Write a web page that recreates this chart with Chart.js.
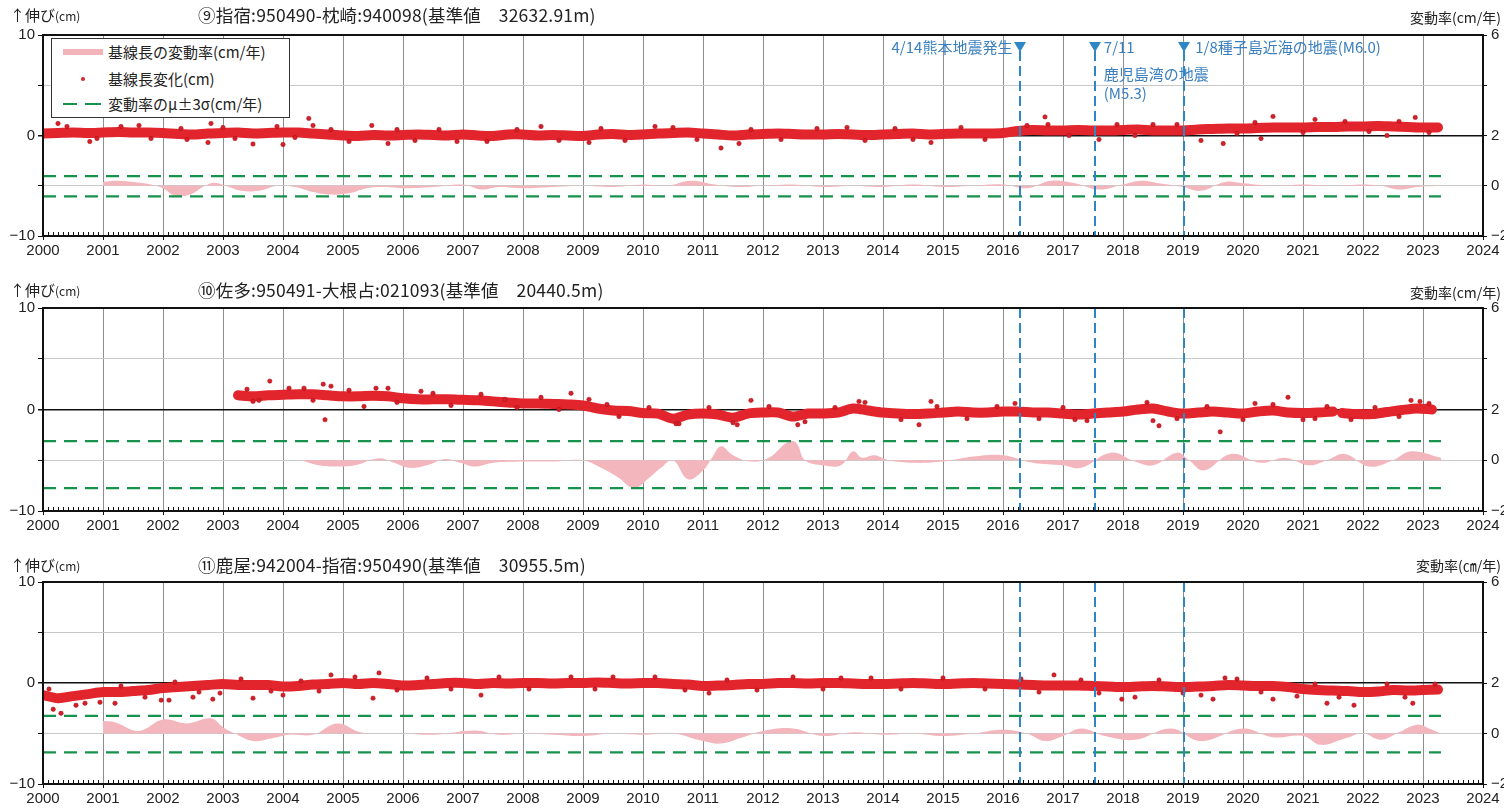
<!DOCTYPE html>
<html lang="ja">
<head>
<meta charset="utf-8">
<title>基線長変化</title>
<script src="https://cdn.jsdelivr.net/npm/chart.js@4.4.1/dist/chart.umd.min.js"></script>
<style>
  body { margin: 0; width: 1504px; height: 810px; background: #fff; position: relative; overflow: hidden; font-family: "Noto Sans CJK JP", sans-serif; color: #222; }
  .panel { position: absolute; left: 0; width: 1504px; }
  .panel canvas { position: absolute; left: 0; top: 0; }
  .head { position: absolute; height: 20px; line-height: 20px; white-space: nowrap; z-index: 2; }
  .ylab { left: 10px; font-size: 15px; }
  .ylab small { font-size: 12px; }
  .title { left: 198px; font-size: 17.5px; letter-spacing: 0.2px; }
  .rlab { right: 3px; font-size: 14px; }
  .legend { position: absolute; left: 51px; top: 38px; width: 237px; height: 78px; border: 1px solid #333; background: #fff; z-index: 2; font-size: 15px; }
  .legend .row { position: absolute; left: 0; height: 20px; line-height: 20px; width: 100%; }
  .legend .txt { position: absolute; left: 56px; white-space: nowrap; }
  .sym-rate { position: absolute; left: 11px; top: 7px; width: 40px; height: 6px; background: #f2b4bb; }
  .sym-dot { position: absolute; left: 29px; top: 8px; width: 4px; height: 4px; border-radius: 50%; background: #d9232a; }
  .sym-sig { position: absolute; top: 9px; height: 2px; background: #17924c; }
</style>
</head>
<body>
<div class="panel" style="top:0px;height:273px">
  <canvas id="c1" width="1504" height="273"></canvas>
  <div class="head ylab" style="top:5px">↑伸び<small>(cm)</small></div>
  <div class="head title" style="top:5px">⑨指宿:950490-枕崎:940098(基準値　32632.91m)</div>
  <div class="head rlab" style="top:7px">変動率(cm/年)</div>
  <div class="legend">
    <div class="row" style="top:3px"><span class="sym-rate"></span><span class="txt">基線長の変動率(cm/年)</span></div>
    <div class="row" style="top:30px"><span class="sym-dot"></span><span class="txt">基線長変化(cm)</span></div>
    <div class="row" style="top:55px"><span class="sym-sig" style="left:11px;width:14px"></span><span class="sym-sig" style="left:33px;width:16px"></span><span class="txt">変動率のμ±3σ(cm/年)</span></div>
  </div>
</div>
<div class="panel" style="top:273px;height:274px">
  <canvas id="c2" width="1504" height="274"></canvas>
  <div class="head ylab" style="top:7px">↑伸び<small>(cm)</small></div>
  <div class="head title" style="top:7px">⑩佐多:950491-大根占:021093(基準値　20440.5m)</div>
  <div class="head rlab" style="top:9px">変動率(cm/年)</div>
</div>
<div class="panel" style="top:547px;height:263px">
  <canvas id="c3" width="1504" height="263"></canvas>
  <div class="head ylab" style="top:8px">↑伸び<small>(cm)</small></div>
  <div class="head title" style="top:8px">⑪鹿屋:942004-指宿:950490(基準値　30955.5m)</div>
  <div class="head rlab" style="top:8px">変動率(㎝/年)</div>
</div>

<script>
// time axis (decimal years)
const yearMin = 2000;
const yearMax = 2024;
const bandStep = 0.25;
const rateEnd = 2023.3;

// events (vertical dashed lines)
const eventYears = [2016.29, 2017.53, 2019.02];
const eventLabels = ["4/14熊本地震発生", "7/11", "1/8種子島近海の地震(M6.0)"];
const eventSubLabels = ["鹿児島湾の地震", "(M5.3)"];

// μ±3σ of rate (cm/yr) per panel
const sigmaUpper = [0.38, 0.75, 0.7];
const sigmaLower = [-0.42, -1.1, -0.75];

// ---- panel 1: 指宿-枕崎 ----
const band1Start = 2000;
const band1 = [
  0.2, 0.25, 0.3, 0.25, 0.3, 0.35, 0.3, 0.3, 0.25, 0.15, 0.1, 0.2,
  0.25, 0.3, 0.2, 0.25, 0.3, 0.3, 0.2, 0.1, 0.0, -0.05, 0.05, 0.0,
  0.05, 0.1, 0.05, 0.0, 0.1, 0.0, -0.05, 0.1, 0.1, 0.0, 0.05, 0.0,
  -0.05, 0.1, 0.15, 0.05, 0.1, 0.2, 0.25, 0.3, 0.2, 0.1, 0.0, 0.1,
  0.15, 0.2, 0.15, 0.1, 0.1, 0.15, 0.1, 0.05, 0.1, 0.15, 0.2, 0.1,
  0.15, 0.2, 0.2, 0.2, 0.25, 0.45, 0.55, 0.5, 0.5, 0.55, 0.5, 0.5,
  0.55, 0.6, 0.5, 0.5, 0.5, 0.6, 0.65, 0.7, 0.7, 0.75, 0.8, 0.8,
  0.8, 0.85, 0.85, 0.9, 0.9, 0.95, 0.9, 0.85, 0.8, 0.8
];
const dots1X = [2000.25, 2000.78, 2002.75, 2002.8, 2003.5, 2004.0, 2004.43, 2004.5, 2005.48, 2005.75,
  2001.6, 2006.9, 2008.3, 2009.1, 2010.2, 2011.3, 2011.6, 2013.4, 2014.8, 2016.7,
  2016.75, 2017.6, 2018.5, 2019.3, 2019.67, 2020.3, 2020.5, 2021.2, 2022.4, 2022.87];
const dots1Y = [1.2, -0.6, -0.7, 1.2, -0.85, -0.9, 1.7, 1.0, 1.0, -0.8,
  1.0, -0.6, 0.9, -0.7, 0.9, -1.25, -0.8, 0.8, -0.7, 1.85,
  1.1, -0.4, 1.1, -0.5, -0.8, -0.3, 1.9, 1.6, 0.0, 1.8];
const edge1X = [2000.4, 2000.9, 2001.3, 2001.8, 2002.3, 2002.4, 2003.0, 2003.2, 2003.9, 2004.2,
  2004.8, 2005.1, 2005.9, 2006.2, 2006.6, 2007.4, 2007.9, 2008.6, 2009.3, 2009.7,
  2010.5, 2010.9, 2011.8, 2012.3, 2012.9, 2013.7, 2014.2, 2014.5, 2015.3, 2015.7,
  2016.4, 2017.1, 2017.9, 2018.2, 2018.9, 2019.9, 2020.2, 2021.0, 2021.7, 2022.1,
  2022.6, 2023.1];
const edge1Y = [0.9, -0.3, 0.9, -0.3, 0.7, -0.4, 0.8, -0.3, 0.9, -0.2,
  0.6, -0.6, 0.6, -0.5, 0.6, -0.6, 0.6, -0.5, 0.7, -0.5,
  0.8, -0.4, 0.6, -0.4, 0.7, -0.5, 0.7, -0.4, 0.8, -0.4,
  1.0, 0.0, 1.1, 0.0, 1.1, 0.2, 1.3, 0.3, 1.4, 0.4,
  1.4, 0.3];
const rate1X = [2001.0, 2001.2, 2001.5, 2001.8, 2002.0, 2002.2, 2002.45, 2002.7, 2002.85, 2003.1,
  2003.3, 2003.6, 2003.9, 2004.2, 2004.5, 2004.8, 2005.1, 2005.4, 2005.7, 2006.0,
  2006.5, 2007.0, 2007.3, 2007.6, 2008.0, 2008.5, 2009.0, 2009.5, 2010.0, 2010.4,
  2010.8, 2011.2, 2011.6, 2012.0, 2012.5, 2013.0, 2013.5, 2014.0, 2014.5, 2015.0,
  2015.5, 2016.0, 2016.4, 2016.8, 2017.2, 2017.6, 2018.0, 2018.3, 2018.6, 2019.0,
  2019.3, 2019.7, 2020.0, 2020.5, 2021.0, 2021.5, 2022.0, 2022.3, 2022.6, 2022.9,
  2023.3];
const rate1Y = [0.15, 0.2, 0.15, 0.05, -0.1, -0.4, -0.35, 0.0, 0.12, -0.05,
  -0.2, -0.2, 0.0, -0.05, -0.25, -0.35, -0.3, -0.1, -0.05, -0.1,
  -0.05, 0.05, -0.15, -0.05, -0.1, -0.05, 0.0, -0.05, 0.05, 0.0,
  0.2, 0.05, -0.05, 0.0, 0.05, -0.05, 0.0, -0.05, 0.05, -0.05,
  0.0, 0.05, -0.1, 0.2, 0.1, -0.15, 0.05, 0.2, 0.1, -0.05,
  -0.2, 0.15, 0.1, 0.0, 0.05, 0.0, 0.05, 0.0, -0.15, -0.05,
  0.0];

// ---- panel 2: 佐多-大根占 ----
const band2aStart = 2003.25;
const band2a = [
  1.4, 1.3, 1.4,
  1.45, 1.5, 1.5, 1.4, 1.3, 1.3, 1.35, 1.3, 1.1, 1.0, 1.0, 1.0,
  0.95, 0.9, 0.8, 0.7, 0.6, 0.6, 0.55, 0.5, 0.4, 0.1, -0.1, -0.15,
  -0.35, -0.4, -0.9, -0.5, -0.4, -0.5, -0.8, -0.4, -0.3, -0.3, -0.7, -0.4,
  -0.4, -0.3, 0.1, -0.1, -0.3, -0.4, -0.45, -0.4, -0.3, -0.2, -0.3, -0.3,
  -0.2, -0.2, -0.3, -0.3, -0.4, -0.5, -0.4, -0.3, -0.2, 0.0, 0.1, -0.2,
  -0.4, -0.3, -0.2, -0.3, -0.4, -0.2, -0.1, -0.3, -0.35, -0.3, -0.2
];
const band2bStart = 2021.65;
const band2b = [-0.35, -0.45, -0.45, -0.25, -0.05, 0.1, 0.0];
const dots2X = [2003.6, 2003.78, 2004.35, 2004.67, 2004.7, 2004.8, 2005.35, 2005.55, 2005.75, 2006.3,
  2007.7, 2008.8, 2009.4, 2010.55, 2011.57, 2011.8, 2012.58, 2013.6, 2014.6, 2014.8,
  2016.2, 2017.2, 2018.5, 2018.6, 2019.62, 2020.2, 2020.75, 2021.2, 2022.8, 2022.95];
const dots2Y = [0.9, 2.8, 2.1, 2.5, -1.0, 2.3, 0.3, 2.1, 2.1, 1.8,
  1.0, 1.6, 0.5, -1.4, -1.5, 0.9, -1.5, 0.8, -1.5, 0.8,
  0.6, -1.0, -1.1, -1.6, -2.2, 0.6, 1.2, -0.9, 0.9, 0.8];
const edge2X = [2003.4, 2003.5, 2004.1, 2004.5, 2005.1, 2005.9, 2006.5, 2006.8, 2007.3, 2007.9,
  2008.3, 2008.6, 2009.1, 2009.6, 2010.1, 2010.6, 2011.1, 2011.5, 2012.1, 2012.7,
  2013.2, 2013.7, 2014.3, 2014.9, 2015.4, 2015.9, 2016.6, 2017.0, 2017.4, 2018.4,
  2018.9, 2019.4, 2020.0, 2020.5, 2021.0, 2021.4, 2021.8, 2022.2, 2022.6, 2023.1];
const edge2Y = [2.0, 0.8, 2.1, 0.9, 1.9, 0.7, 1.6, 0.4, 1.5, 0.2,
  1.2, 0.0, 1.0, -0.7, 0.2, -1.4, 0.2, -1.3, 0.3, -1.2,
  0.2, 0.7, -1.0, 0.3, -0.9, 0.3, -0.9, 0.2, -1.1, 0.7,
  -0.9, 0.3, -1.0, 0.5, -1.0, 0.3, -1.0, 0.2, -0.7, 0.6];
const rate2X = [2004.3, 2004.6, 2004.9, 2005.2, 2005.6, 2005.85, 2006.1, 2006.4, 2006.7, 2006.95,
  2007.2, 2007.5, 2008.0, 2008.5, 2009.0, 2009.3, 2009.6, 2009.85, 2010.1, 2010.3,
  2010.5, 2010.75, 2011.0, 2011.15, 2011.3, 2011.5, 2011.8, 2012.1, 2012.4, 2012.55,
  2012.7, 2013.0, 2013.3, 2013.5, 2013.65, 2013.85, 2014.1, 2014.5, 2015.0, 2015.5,
  2016.0, 2016.5, 2017.0, 2017.3, 2017.8, 2018.2, 2018.5, 2018.9, 2019.1, 2019.35,
  2019.8, 2020.3, 2020.7, 2021.1, 2021.4, 2021.7, 2022.1, 2022.5, 2022.8, 2023.3];
const rate2Y = [0.0, -0.2, -0.25, -0.2, 0.08, -0.1, -0.3, -0.2, 0.05, -0.1,
  -0.25, -0.1, -0.05, -0.05, 0.0, -0.3, -0.7, -1.1, -0.7, -0.3,
  0.0, -0.75, -0.4, 0.1, 0.55, 0.2, -0.05, 0.1, 0.7, 0.7,
  0.0, -0.2, -0.2, 0.35, 0.1, 0.2, 0.0, -0.1, -0.05, 0.15,
  0.2, -0.1, -0.2, -0.3, 0.3, -0.05, -0.2, 0.3, 0.0, -0.4,
  0.25, -0.1, 0.1, -0.2, 0.0, 0.25, -0.25, 0.0, 0.35, 0.1];

// ---- panel 3: 鹿屋-指宿 ----
const band3Start = 2000;
const band3 = [
  -1.2, -1.5, -1.3, -1.1, -0.9, -0.9, -0.8, -0.7, -0.5, -0.4, -0.3, -0.2,
  -0.1, -0.2, -0.2, -0.2, -0.35, -0.3, -0.15, -0.1, 0.0, -0.1, 0.0, -0.1,
  -0.25, -0.2, -0.1, 0.0, 0.0, -0.1, 0.0, -0.05, 0.0, 0.0, -0.05, 0.0,
  0.0, 0.05, 0.0, -0.05, 0.0, 0.0, -0.1, -0.15, -0.3, -0.25, -0.2, -0.1,
  -0.1, 0.0, 0.0, -0.05, 0.0, 0.0, -0.05, -0.1, -0.1, -0.05, 0.0, -0.05,
  -0.1, -0.05, 0.0, -0.05, -0.1, -0.15, -0.2, -0.25, -0.25, -0.25, -0.3, -0.35,
  -0.4, -0.35, -0.3, -0.35, -0.4, -0.35, -0.3, -0.2, -0.25, -0.3, -0.3, -0.4,
  -0.6, -0.7, -0.75, -0.8, -0.9, -0.85, -0.7, -0.75, -0.7, -0.65
];
const dots3X = [2000.17, 2000.3, 2000.55, 2000.95, 2001.2, 2001.97, 2002.1, 2002.5, 2002.83, 2002.95,
  2003.5, 2004.0, 2004.8, 2005.5, 2005.6, 2007.3, 2009.5, 2011.1, 2013.3, 2016.85,
  2017.98, 2018.2, 2019.3, 2019.5, 2019.7, 2020.5, 2020.9, 2021.4, 2021.85, 2022.83];
const dots3Y = [-2.6, -3.0, -2.2, -1.9, -2.0, -1.7, -1.7, -1.4, -1.6, -1.0,
  -1.5, -1.2, 0.8, -1.5, 1.0, -1.2, 0.6, -1.0, 0.5, 0.8,
  -1.6, -1.4, -1.2, -1.6, 0.5, -1.6, -1.3, -2.0, -2.2, -2.0];
const edge3X = [2000.1, 2000.7, 2001.3, 2001.7, 2002.2, 2002.6, 2003.3, 2003.8, 2004.3, 2004.6,
  2005.2, 2005.9, 2006.4, 2006.8, 2007.6, 2008.1, 2008.8, 2009.2, 2010.2, 2010.7,
  2011.4, 2011.9, 2012.5, 2013.0, 2013.8, 2014.3, 2015.0, 2015.7, 2016.3, 2016.6,
  2017.3, 2017.6, 2018.6, 2019.0, 2019.9, 2020.3, 2021.2, 2021.6, 2022.4, 2022.7,
  2023.2];
const edge3Y = [-0.6, -2.0, -0.3, -1.4, 0.1, -0.9, 0.4, -0.8, 0.2, -0.8,
  0.6, -0.7, 0.5, -0.6, 0.6, -0.6, 0.6, -0.6, 0.6, -0.7,
  0.3, -0.7, 0.6, -0.6, 0.5, -0.6, 0.5, -0.6, 0.4, -0.9,
  0.3, -1.0, 0.3, -1.0, 0.4, -0.9, -0.1, -1.4, -0.1, -1.4,
  -0.1];
const rate3X = [2001.0, 2001.2, 2001.6, 2002.0, 2002.4, 2002.8, 2003.0, 2003.2, 2003.5, 2003.8,
  2004.1, 2004.5, 2004.9, 2005.3, 2005.7, 2006.0, 2006.5, 2007.2, 2007.6, 2008.0,
  2008.5, 2009.0, 2009.5, 2010.0, 2010.5, 2011.0, 2011.3, 2011.6, 2012.0, 2012.5,
  2013.0, 2013.5, 2014.0, 2014.5, 2015.0, 2015.5, 2016.0, 2016.4, 2016.7, 2017.0,
  2017.3, 2017.7, 2018.2, 2018.8, 2019.3, 2020.0, 2020.5, 2021.0, 2021.3, 2021.7,
  2022.0, 2022.3, 2022.6, 2022.9, 2023.1, 2023.3];
const rate3Y = [0.5, 0.45, 0.1, 0.55, 0.4, 0.6, 0.25, 0.0, -0.3, -0.2,
  -0.05, -0.05, 0.4, 0.05, 0.0, 0.0, -0.05, 0.12, -0.05, 0.0,
  -0.05, -0.1, 0.0, -0.05, 0.0, -0.3, -0.4, -0.2, 0.1, 0.2,
  -0.1, 0.05, -0.05, 0.0, -0.1, 0.0, 0.15, 0.0, -0.3, -0.1,
  0.2, -0.1, -0.25, 0.2, -0.3, 0.2, -0.15, -0.1, -0.45, -0.2,
  0.0, -0.25, 0.05, 0.35, 0.2, 0.0];

const colors = {
  band: "#e2252c",
  dot: "#d81f27",
  dotEdge: "#9e1118",
  rate: "#f3b6bd",
  sigma: "#17924c",
  event: "#2e86c4",
  eventText: "#3a7fc0",
  frame: "#111",
  grid: "#8e8e8e",
  minorGrid: "#c9c9c9",
  text: "#222",
};
const tickFont = { family: "'Liberation Sans', Arial, sans-serif", size: 15 };

function bandPoints(start, values) {
  return values.map((v, i) => ({ x: start + i * bandStep, y: v }));
}

function pairPoints(xs, ys) {
  return xs.map((x, i) => ({ x, y: ys[i] }));
}

const panelPlugin = {
  id: "panelDeco",
  afterDatasetsDraw(chart, args, opts) {
    const { ctx, chartArea: a, scales } = chart;
    const xs = scales.x;
    ctx.save();

    // event lines
    ctx.strokeStyle = colors.event;
    ctx.lineWidth = 2;
    ctx.setLineDash([10, 5]);
    eventYears.forEach((yr) => {
      const px = Math.round(xs.getPixelForValue(yr));
      ctx.beginPath();
      ctx.moveTo(px, a.top + (opts.annotate ? 16 : 0));
      ctx.lineTo(px, a.bottom);
      ctx.stroke();
    });
    ctx.setLineDash([]);

    // frame
    ctx.strokeStyle = colors.frame;
    ctx.lineWidth = 2;
    ctx.strokeRect(a.left, a.top, a.right - a.left, a.bottom - a.top);

    // monthly minor ticks on the bottom axis
    ctx.lineWidth = 1;
    ctx.beginPath();
    for (let m = 1; m < (yearMax - yearMin) * 12; m++) {
      if (m % 12 === 0) continue;
      const px = Math.round(xs.getPixelForValue(yearMin + m / 12)) + 0.5;
      ctx.moveTo(px, a.bottom);
      ctx.lineTo(px, a.bottom - 4);
    }
    ctx.stroke();

    if (opts.annotate) {
      ctx.fillStyle = colors.event;
      const triTop = a.top + 7;
      eventYears.forEach((yr) => {
        const px = Math.round(xs.getPixelForValue(yr));
        ctx.beginPath();
        ctx.moveTo(px - 6, triTop);
        ctx.lineTo(px + 6, triTop);
        ctx.lineTo(px, triTop + 10);
        ctx.closePath();
        ctx.fill();
      });
      ctx.fillStyle = colors.eventText;
      ctx.font = "15px 'Noto Sans CJK JP', sans-serif";
      ctx.textBaseline = "middle";
      const p0 = xs.getPixelForValue(eventYears[0]);
      const p1 = xs.getPixelForValue(eventYears[1]);
      const p2 = xs.getPixelForValue(eventYears[2]);
      ctx.textAlign = "right";
      ctx.fillText(eventLabels[0], p0 - 8, triTop + 5);
      ctx.textAlign = "left";
      ctx.fillText(eventLabels[1], p1 + 9, triTop + 5);
      ctx.fillText(eventSubLabels[0], p1 + 9, triTop + 32);
      ctx.fillText(eventSubLabels[1], p1 + 9, triTop + 51);
      ctx.fillText(eventLabels[2], p2 + 11, triTop + 5);
    }
    ctx.restore();
  },
};

function makePanel(id, idx, bands, dotsX, dotsY, rateX, rateY, xHeight, annotate) {
  const datasets = [
    {
      label: "基線長変化(cm)",
      data: pairPoints(dotsX, dotsY),
      yAxisID: "y",
      showLine: false,
      pointRadius: 2.2,
      pointBackgroundColor: colors.dot,
      pointBorderColor: colors.dotEdge,
      pointBorderWidth: 0.5,
      order: 0,
    },
  ];
  bands.forEach((b) => {
    datasets.push({
      label: "band",
      data: bandPoints(b.start, b.values),
      yAxisID: "y",
      borderColor: colors.band,
      borderWidth: 10,
      borderCapStyle: "round",
      borderJoinStyle: "round",
      tension: 0.3,
      pointRadius: 0,
      fill: false,
      order: 1,
    });
  });
  [sigmaUpper[idx], sigmaLower[idx]].forEach((v) => {
    datasets.push({
      label: "μ±3σ",
      data: [{ x: yearMin, y: v }, { x: rateEnd, y: v }],
      yAxisID: "yr",
      borderColor: colors.sigma,
      borderWidth: 2.2,
      borderDash: [13, 8],
      pointRadius: 0,
      fill: false,
      order: 2,
    });
  });
  datasets.push({
    label: "基線長の変動率(cm/年)",
    data: pairPoints(rateX, rateY),
    yAxisID: "yr",
    borderWidth: 0,
    borderColor: colors.rate,
    backgroundColor: colors.rate,
    fill: "origin",
    tension: 0.4,
    pointRadius: 0,
    order: 3,
  });

  return new Chart(document.getElementById(id), {
    type: "line",
    data: { datasets },
    plugins: [panelPlugin],
    options: {
      responsive: false,
      animation: false,
      layout: { padding: { top: 35, left: 0, right: 0, bottom: 0 } },
      plugins: { legend: { display: false }, tooltip: { enabled: false }, panelDeco: { annotate } },
      scales: {
        x: {
          type: "linear",
          min: yearMin,
          max: yearMax,
          ticks: { stepSize: 1, autoSkip: false, maxRotation: 0, color: colors.text, font: tickFont, padding: 2, callback: (v) => String(v) },
          grid: { color: colors.grid, lineWidth: 1, tickLength: 4, tickColor: colors.frame },
          border: { color: colors.frame, width: 2 },
          afterFit: (s) => { s.height = xHeight; },
        },
        y: {
          position: "left",
          min: -10,
          max: 10,
          ticks: { stepSize: 5, color: colors.text, font: tickFont, padding: 3, callback: (v) => (v === 10 ? "10" : v === 0 ? "0" : v === -10 ? "−10" : "") },
          grid: {
            color: (c) => (c.tick && c.tick.value === 0 ? colors.frame : colors.minorGrid),
            lineWidth: (c) => (c.tick && c.tick.value === 0 ? 1.5 : 1),
            tickLength: 5,
            tickColor: colors.frame,
          },
          border: { color: colors.frame, width: 2 },
          afterFit: (s) => { s.width = 43; },
        },
        yr: {
          position: "right",
          min: -2,
          max: 6,
          ticks: { stepSize: 2, color: colors.text, font: tickFont, padding: 4, callback: (v) => (v === 4 ? "" : String(v).replace("-", "−")) },
          grid: { drawOnChartArea: false, tickLength: 4, tickColor: colors.frame },
          border: { color: colors.frame, width: 2 },
          afterFit: (s) => { s.width = 21; },
        },
      },
    },
  });
}

makePanel("c1", 0, [{ start: band1Start, values: band1 }], dots1X.concat(edge1X), dots1Y.concat(edge1Y), rate1X, rate1Y, 37, true);
makePanel("c2", 1, [{ start: band2aStart, values: band2a }, { start: band2bStart, values: band2b }], dots2X.concat(edge2X), dots2Y.concat(edge2Y), rate2X, rate2Y, 36, false);
makePanel("c3", 2, [{ start: band3Start, values: band3 }], dots3X.concat(edge3X), dots3Y.concat(edge3Y), rate3X, rate3Y, 26, false);
</script>
</body>
</html>
